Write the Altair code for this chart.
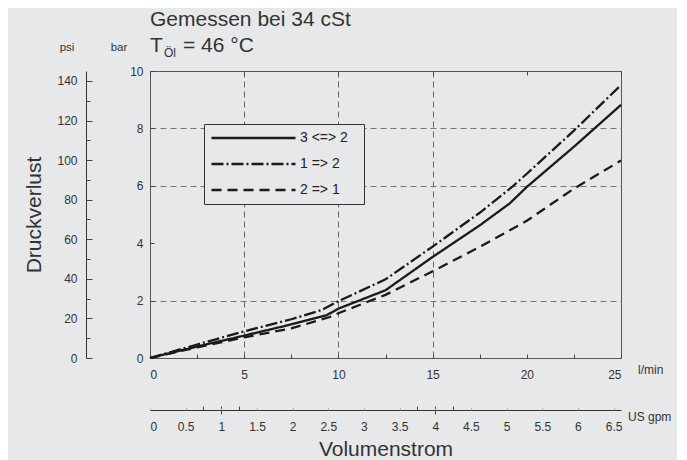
import altair as alt
import pandas as pd

# ---- data ----
series = ["3 <=> 2", "1 => 2", "2 => 1"]

flow_32 = [0, 2.5, 5, 7.5, 9.4, 10, 12.5, 15, 17.5, 19.1, 20, 22.5, 25]
bar_32 = [0, 0.40, 0.78, 1.17, 1.50, 1.72, 2.36, 3.52, 4.62, 5.39, 5.96, 7.36, 8.82]

flow_12 = [0, 2.5, 5, 7.5, 9.1, 10, 12.5, 15, 17.5, 19.2, 20, 22.5, 25]
bar_12 = [0, 0.47, 0.93, 1.35, 1.67, 1.98, 2.74, 3.88, 5.06, 5.95, 6.42, 7.92, 9.51]

flow_21 = [0, 2.5, 5, 7.5, 9.5, 10, 12.5, 15, 17.5, 20, 22.5, 25]
bar_21 = [0, 0.37, 0.72, 1.03, 1.42, 1.56, 2.20, 3.02, 3.87, 4.78, 5.90, 6.88]

flow_labels = [0, 5, 10, 15, 20, 25]
flow_minor = [0, 2.5, 5, 7.5, 10, 12.5, 15, 17.5, 20, 22.5, 25]
flow_grid = [5, 10, 15]
bar_labels = [0, 2, 4, 6, 8, 10]
bar_grid = [2, 6, 8]
psi_labels = [0, 20, 40, 60, 80, 100, 120, 140]
psi_minor = [0, 10, 20, 30, 40, 50, 60, 70, 80, 90, 100, 110, 120, 130, 140]
gpm_labels = [0, 0.5, 1, 1.5, 2, 2.5, 3, 3.5, 4, 4.5, 5, 5.5, 6, 6.5]
gpm_marks = [0.75, 1, 1.25, 3.75, 4, 4.25]
gpm_major = [1, 4]

L_PER_GAL = 3.78541
PSI_PER_BAR = 14.5038

rows = []
for name, fx, by in [(series[0], flow_32, bar_32),
                     (series[1], flow_12, bar_12),
                     (series[2], flow_21, bar_21)]:
    for f, b in zip(fx, by):
        rows.append({"series": name, "flow": f, "bar": b})
df = pd.DataFrame(rows)

W, H = 471, 287
BG = "#e7e8e9"
INK = "#1a1a1a"
TXT = "#333333"
FONT = "Liberation Sans"

xs = alt.Scale(domain=[0, 25], nice=False, zero=True)
ys = alt.Scale(domain=[0, 10], nice=False, zero=True)
gs = alt.Scale(domain=[0, 25 / L_PER_GAL], nice=False, zero=True)
ps = alt.Scale(domain=[0, 10 * PSI_PER_BAR], nice=False, zero=True)

def ax(**kw):
    base = dict(title=None, grid=False, labels=False, ticks=False, domain=False)
    base.update(kw)
    return alt.Axis(**base)

# blank (non-trimmed) filler so the legend frame is as wide as in the reference
PAD = "\u2800"

# main curves with l/min and bar labels
lines = alt.Chart(df).mark_line(strokeWidth=2.3, color=INK).encode(
    x=alt.X("flow:Q", scale=xs,
            axis=ax(orient="bottom", values=flow_labels, labels=True, labelPadding=11)),
    y=alt.Y("bar:Q", scale=ys,
            axis=ax(orient="left", values=bar_labels, labels=True, labelPadding=7)),
    strokeDash=alt.StrokeDash(
        "series:N",
        scale=alt.Scale(domain=series, range=[[1, 0], [12, 3, 2, 3], [10, 6]]),
        legend=alt.Legend(
            title=None, orient="none", legendX=54, legendY=53,
            symbolType="stroke", symbolSize=84 * 84, symbolStrokeWidth=2.3,
            symbolStrokeColor=INK, clipHeight=16, rowPadding=10,
            labelFontSize=14, labelOffset=3, labelColor="#222", labelFont=FONT,
            labelExpr=f"datum.label + '{PAD}'",
            padding=6, strokeColor="#333", fillColor=BG,
        ),
    ),
)

fb = alt.Chart(df).mark_point(opacity=0, size=1)
gp = alt.Chart(df).transform_calculate(
    gpm=f"datum.flow / {L_PER_GAL}", psi=f"datum.bar * {PSI_PER_BAR}"
).mark_point(opacity=0, size=1)

# inner ticks on bottom and left edge of the frame
ticks_in = fb.encode(
    x=alt.X("flow:Q", scale=xs, axis=ax(orient="top", offset=-H, values=flow_minor,
                                       ticks=True, tickSize=4)),
    y=alt.Y("bar:Q", scale=ys, axis=ax(orient="right", offset=-W, values=bar_labels,
                                      ticks=True, tickSize=4)),
)
# dashed grid lines
grid = fb.encode(
    x=alt.X("flow:Q", scale=xs, axis=ax(orient="bottom", values=flow_grid, grid=True,
                                       gridDash=[6, 4], gridColor="#666")),
    y=alt.Y("bar:Q", scale=ys, axis=ax(orient="left", values=bar_grid, grid=True,
                                      gridDash=[6, 4], gridColor="#777")),
)
# ticks hanging from the top edge
ticks_top = fb.encode(
    x=alt.X("flow:Q", scale=xs, axis=ax(orient="bottom", offset=-H, values=flow_labels,
                                       ticks=True, tickSize=4)),
)
# US gpm and psi axes
gp_main = gp.encode(
    x=alt.X("gpm:Q", scale=gs,
            axis=ax(orient="bottom", offset=52, values=gpm_labels, labels=True,
                    format=".1~f", domain=True, labelPadding=11, title="Volumenstrom",
                    titlePadding=6, titleFontSize=21)),
    y=alt.Y("psi:Q", scale=ps,
            axis=ax(orient="left", offset=64, values=psi_labels, labels=True,
                    domain=True, labelPadding=9, title="Druckverlust",
                    titlePadding=12, titleFontSize=21)),
)
gp_ticks1 = gp.encode(
    x=alt.X("gpm:Q", scale=gs, axis=ax(orient="top", offset=-(H + 52), values=gpm_marks,
                                      ticks=True, tickSize=4)),
    y=alt.Y("psi:Q", scale=ps, axis=ax(orient="right", offset=-(W + 64), values=psi_minor,
                                      ticks=True, tickSize=4)),
)
gp_ticks2 = gp.encode(
    x=alt.X("gpm:Q", scale=gs, axis=ax(orient="bottom", offset=52, values=gpm_major,
                                      ticks=True, tickSize=4)),
    y=alt.Y("psi:Q", scale=ps, axis=ax(orient="right", offset=-(W + 64), values=psi_labels,
                                      ticks=True, tickSize=6)),
)
gp_ticks3 = gp.encode(
    x=alt.X("gpm:Q", scale=gs, axis=ax(orient="top", offset=-(H + 52), values=gpm_labels,
                                      ticks=True, tickSize=2, tickColor="#999")),
)

one = alt.Data(values=[{}])

def note(text, x, y, size, align="left"):
    return alt.Chart(one).mark_text(
        text=text, align=align, baseline="alphabetic", fontSize=size,
        font=FONT, color=TXT
    ).encode(x=alt.value(x), y=alt.value(y))

notes = [
    note("Gemessen bei 34 cSt", 0, -45, 21),
    note("T", 0, -19, 21),
    note("Öl", 14, -14, 12),
    note("= 46 °C", 33, -19, 21),
    note("psi", -83, -20, 11.5, "center"),
    note("bar", -31, -20, 11.5, "center"),
    note("l/min", 488, 303, 12),
    note("US gpm", 478, 350, 12),
]

chart = alt.layer(
    grid, ticks_in, ticks_top, gp_main, gp_ticks1, gp_ticks2, gp_ticks3, lines, *notes
).resolve_scale(
    x="independent", y="independent"
).properties(
    width=W, height=H,
    autosize=alt.AutoSizeParams(type="none"),
    padding={"left": 142, "top": 63, "right": 56, "bottom": 102},
    background=BG,
).configure_view(
    stroke="#555", strokeWidth=1
).configure_axis(
    labelFont=FONT, labelFontSize=12, labelColor=TXT,
    titleFont=FONT, titleColor=TXT, titleFontWeight="normal",
    tickColor="#444", domainColor="#333", tickWidth=1,
)

chart.save("out.html", embed_options={"renderer": "svg", "actions": False})
